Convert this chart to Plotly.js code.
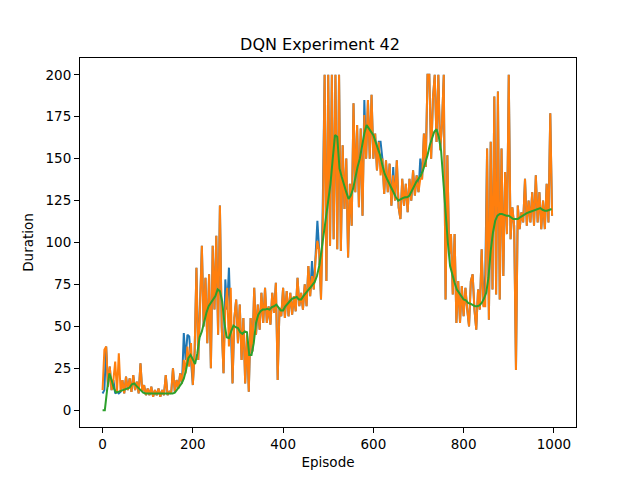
<!DOCTYPE html>
<html>
<head>
<meta charset="utf-8">
<script src="https://cdn.plot.ly/plotly-3.0.1.min.js"></script>
<style>
  html, body { margin: 0; padding: 0; background: #fff; }
  #chart { width: 640px; height: 480px; }
</style>
</head>
<body>
<div id="chart"></div>
<script>
// raw series: one sample every 4 episodes, moving average: every 5
const rawStep = 4;
const meanStep = 5;

const durations = [
  10, 12, 38, 14, 26, 12, 18, 10, 11, 10,
  11, 18, 10, 20, 12, 19, 11, 21, 12, 17,
  10, 28, 11, 15, 9, 13, 9, 14, 8, 12,
  9, 13, 8, 12, 9, 21, 9, 11, 10, 25,
  11, 18, 13, 22, 16, 46, 30, 45, 44, 30,
  15, 35, 85, 30, 60, 98, 50, 79, 40, 81,
  25, 98, 60, 104, 45, 122, 50, 22, 78, 60,
  85, 45, 16, 55, 66, 40, 63, 30, 55, 16,
  45, 11, 55, 35, 73, 45, 63, 48, 70, 52,
  73, 52, 62, 51, 70, 58, 76, 18, 61, 56,
  73, 55, 71, 56, 70, 57, 68, 59, 79, 62,
  70, 60, 75, 62, 86, 68, 89, 72, 90, 113,
  95, 66, 125, 200, 77, 200, 98, 200, 102, 200,
  96, 200, 95, 158, 120, 150, 91, 135, 110, 183,
  130, 170, 121, 168, 116, 185, 150, 185, 150, 188,
  150, 165, 143, 160, 160, 150, 129, 149, 130, 147,
  122, 145, 125, 149, 121, 114, 138, 122, 135, 118,
  138, 125, 143, 128, 140, 130, 150, 138, 165, 145,
  200, 200, 150, 186, 200, 160, 200, 155, 170, 200,
  66, 152, 93, 105, 69, 105, 52, 77, 52, 74,
  56, 73, 60, 50, 77, 81, 60, 48, 72, 60,
  96, 62, 81, 156, 54, 160, 72, 187, 69, 190,
  66, 156, 80, 142, 105, 200, 102, 121, 110, 24,
  122, 108, 118, 112, 138, 110, 125, 112, 130, 110,
  140, 112, 130, 108, 125, 108, 135, 112, 177, 116
];

const durationsAlt = [
  12, 36, 38, 14, 26, 12, 18, 29, 11, 34,
  11, 18, 10, 20, 12, 19, 11, 21, 12, 17,
  10, 28, 11, 15, 9, 13, 9, 14, 8, 12,
  9, 13, 8, 12, 9, 21, 9, 11, 10, 25,
  11, 18, 13, 22, 16, 30, 22, 38, 26, 40,
  15, 35, 85, 30, 60, 98, 50, 79, 40, 81,
  25, 98, 60, 104, 45, 122, 50, 22, 60, 73,
  38, 73, 16, 55, 66, 40, 63, 30, 55, 16,
  45, 11, 55, 35, 73, 45, 63, 48, 70, 52,
  73, 52, 62, 51, 70, 58, 76, 18, 61, 56,
  73, 55, 71, 56, 70, 57, 68, 59, 79, 62,
  70, 60, 75, 62, 86, 68, 80, 72, 90, 101,
  95, 66, 110, 200, 77, 200, 98, 200, 102, 200,
  96, 200, 95, 158, 120, 150, 91, 135, 110, 183,
  130, 170, 121, 168, 116, 176, 150, 185, 150, 188,
  150, 165, 143, 160, 140, 150, 129, 149, 130, 147,
  122, 140, 125, 149, 121, 114, 138, 122, 135, 118,
  138, 125, 143, 128, 140, 130, 138, 138, 165, 145,
  200, 200, 150, 186, 200, 160, 200, 155, 170, 200,
  66, 152, 93, 105, 69, 105, 52, 77, 52, 74,
  56, 73, 60, 50, 77, 81, 60, 48, 72, 60,
  96, 62, 62, 156, 54, 160, 72, 187, 69, 190,
  66, 156, 80, 142, 105, 200, 102, 121, 110, 24,
  122, 108, 118, 112, 138, 110, 125, 112, 130, 110,
  140, 112, 130, 108, 125, 108, 135, 112, 177, 116
];

const meanDuration = [
  0, 0, 12, 22, 18, 13, 10.5, 11, 11.5, 12,
  12.5, 13, 13.5, 15.5, 16, 14.5, 13, 12, 10.5, 10,
  9.9, 9.9, 9.9, 9.9, 9.9, 9.9, 9.9, 9.9, 9.9, 9.9,
  9.9, 9.9, 10.5, 12, 14, 16, 18.8, 24, 31, 33,
  30, 27.5, 34, 43.5, 47, 53, 58, 62, 64, 66,
  68, 72, 71, 65, 52, 43.5, 43, 47, 50.5, 49.5,
  49, 46.5, 45.5, 47, 46.5, 33, 33, 40, 52, 57,
  59, 60, 60, 60.5, 60, 61.5, 62, 63, 61.5, 59.5,
  59.5, 62, 63.5, 65, 66.5, 67, 67.5, 66, 66, 68,
  70, 71.5, 73, 75, 76.5, 80, 86, 95, 105, 115,
  122, 135, 150, 164, 163, 144, 139, 134, 130, 126,
  128, 132, 139, 145, 150, 158, 165, 170, 168, 166,
  164, 160, 156, 152, 146, 141, 138, 135, 132, 130,
  127, 125, 126, 126.5, 127, 127, 128, 131, 134, 136,
  138, 140, 143, 147, 152, 158, 162, 166, 167.5, 163,
  155, 136, 117, 100, 86, 80, 76, 72, 70, 68,
  66, 65.5, 64, 63.5, 62.5, 62, 62, 62.5, 64, 66.5,
  70, 79, 95, 106, 113, 116, 117, 117, 116.5, 116,
  116, 115, 114, 114, 114, 115, 116, 117, 117.5, 118,
  118.5, 119, 119.5, 120, 120.5, 119.5, 119, 119, 119.5, 120
];

const rawEpisodes = durations.map((_, i) => i * rawStep);
const meanEpisodes = meanDuration.map((_, i) => i * meanStep);

const xTicks = [0, 200, 400, 600, 800, 1000];
const yTicks = [0, 25, 50, 75, 100, 125, 150, 175, 200];

const font = "'DejaVu Sans', sans-serif";

const traces = [
  { x: rawEpisodes, y: durations, type: 'scatter', mode: 'lines',
    line: { color: '#1f77b4', width: 2 }, hoverinfo: 'skip' },
  { x: rawEpisodes, y: durationsAlt, type: 'scatter', mode: 'lines',
    line: { color: '#ff7f0e', width: 2 }, hoverinfo: 'skip' },
  { x: meanEpisodes, y: meanDuration, type: 'scatter', mode: 'lines',
    line: { color: '#2ca02c', width: 2 }, hoverinfo: 'skip' }
];

const axisCommon = {
  showgrid: false,
  zeroline: false,
  showline: true,
  mirror: true,
  linecolor: '#000',
  linewidth: 1,
  ticks: 'outside',
  ticklen: 5,
  tickwidth: 1,
  tickcolor: '#000',
  tickfont: { family: font, size: 13.5, color: '#000' }
};

const layout = {
  width: 640,
  height: 480,
  margin: { l: 80, r: 64, t: 58, b: 53 },
  paper_bgcolor: '#fff',
  plot_bgcolor: '#fff',
  showlegend: false,
  font: { family: font, color: '#000' },
  title: {
    text: 'DQN Experiment 42',
    font: { family: font, size: 16, color: '#000' },
    x: 0.5, xanchor: 'center',
    y: 1 - 44 / 480, yanchor: 'middle'
  },
  xaxis: Object.assign({}, axisCommon, {
    range: [-50, 1049],
    tickvals: xTicks,
    ticktext: xTicks.map(String),
    title: { text: 'Episode', font: { family: font, size: 13.5, color: '#000' }, standoff: 6 }
  }),
  yaxis: Object.assign({}, axisCommon, {
    range: [-10, 210],
    tickvals: yTicks,
    ticktext: yTicks.map(String),
    title: { text: 'Duration', font: { family: font, size: 13.5, color: '#000' }, standoff: 8 }
  })
};

Plotly.newPlot('chart', traces, layout, { displayModeBar: false, staticPlot: true });
</script>
</body>
</html>
